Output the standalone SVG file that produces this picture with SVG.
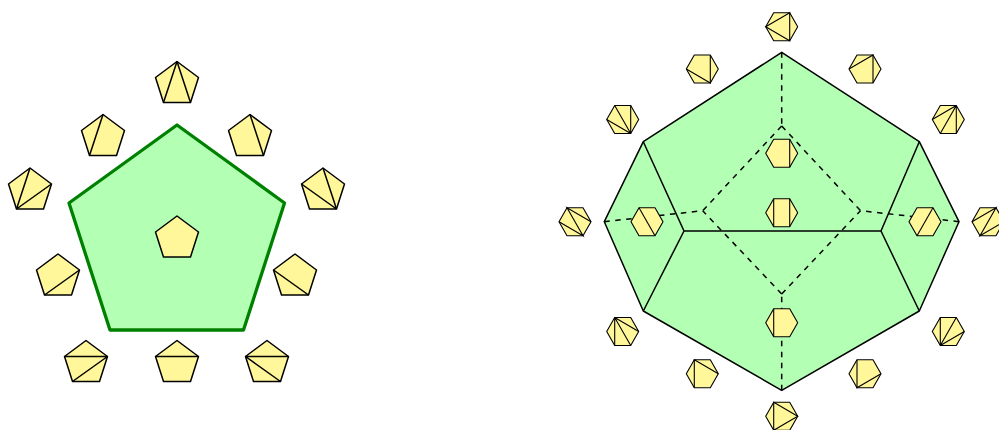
<svg xmlns="http://www.w3.org/2000/svg" width="999" height="430" viewBox="0 0 999 430">
<style>
.big{fill:#b3ffb3;stroke:#008000;stroke-width:3.3;stroke-linejoin:round}
.poly{fill:#b3ffb3;stroke:#000;stroke-width:1.5;stroke-linejoin:round}
.s{fill:#fff799;stroke:#000;stroke-width:1.5;stroke-linejoin:round}
.h{fill:#fff799;stroke:#000;stroke-width:1.1;stroke-linejoin:round}
.d{fill:none;stroke:#000;stroke-width:1.5}
.t{fill:none;stroke:#000;stroke-width:1.1}
.e{fill:none;stroke:#000;stroke-width:1.5}
.dash{fill:none;stroke:#000;stroke-width:1.5;stroke-dasharray:5.5 5.5}
</style>
<defs>
<polygon id="pen" class="s" points="0,0 21.5,16 13.5,41 -13.5,41 -21.5,16"/>
<polygon id="hex" class="h" points="-8,-14 8,-14 16,0 8,14 -8,14 -16,0"/>
</defs>
<g id="pentagon-main"><polygon class="big" points="177,125 284.5,203 243.5,330 110,330 69,203"/></g>
<g id="p-center" transform="translate(177,216)"><use href="#pen"/></g>
<g id="p-top" transform="translate(177,61.5)"><use href="#pen"/><path class="d" d="M0,0L-13.5,41M0,0L13.5,41"/></g>
<g id="p-ul" transform="translate(103,114.5)"><use href="#pen"/><path class="d" d="M0,0L-13.5,41"/></g>
<g id="p-ur" transform="translate(250,114.5)"><use href="#pen"/><path class="d" d="M0,0L13.5,41"/></g>
<g id="p-l1" transform="translate(30,168)"><use href="#pen"/><path class="d" d="M-13.5,41L0,0M-13.5,41L21.5,16"/></g>
<g id="p-r1" transform="translate(323,168)"><use href="#pen"/><path class="d" d="M13.5,41L0,0M13.5,41L-21.5,16"/></g>
<g id="p-l2" transform="translate(58,254)"><use href="#pen"/><path class="d" d="M-13.5,41L21.5,16"/></g>
<g id="p-r2" transform="translate(295,254)"><use href="#pen"/><path class="d" d="M13.5,41L-21.5,16"/></g>
<g id="p-b1" transform="translate(86,340.5)"><use href="#pen"/><path class="d" d="M-21.5,16H21.5M-13.5,41L21.5,16"/></g>
<g id="p-b2" transform="translate(177,340.5)"><use href="#pen"/><path class="d" d="M-21.5,16H21.5"/></g>
<g id="p-b3" transform="translate(267,340.5)"><use href="#pen"/><path class="d" d="M-21.5,16H21.5M-21.5,16L13.5,41"/></g>

<g id="polyhedron">
<polygon class="poly" points="781.7,52.3 919.3,141.7 959,221.7 919.3,311 781.7,390.3 643.3,311 604.3,221.7 643.3,141.7"/>
</g>
<g id="connectors">
<path class="e" d="M684,231H881M643.3,141.7L684,231L643.3,311M919.3,141.7L881,231L919.3,311"/>
<path class="dash" d="M781.7,52.3V126"/>
<path class="dash" d="M781.7,126L702.7,210.7"/>
<path class="dash" d="M781.7,126L860.5,210.7"/>
<path class="dash" d="M781.7,294L702.7,210.7"/>
<path class="dash" d="M781.7,294L860.5,210.7"/>
<path class="dash" d="M604.3,221.7L702.7,210.7"/>
<path class="dash" d="M959,221.7L860.5,210.7"/>
<path class="dash" d="M781.7,390.3V294"/>
</g>
<g id="h-in1" transform="translate(781.7,153.3)"><use href="#hex"/><path class="t" d="M8,-14V14"/></g>
<g id="h-in2" transform="translate(781.7,212.7)"><use href="#hex"/><path class="t" d="M-8,-14V14M8,-14V14"/></g>
<g id="h-in3" transform="translate(781.7,322.7)"><use href="#hex"/><path class="t" d="M-8,-14V14"/></g>
<g id="h-in4" transform="translate(647,221.7)"><use href="#hex"/><path class="t" d="M-8,-14L8,14"/></g>
<g id="h-in5" transform="translate(925,221.7)"><use href="#hex"/><path class="t" d="M8,-14L-8,14"/></g>
<g id="h-top" transform="translate(781.7,26.7)"><use href="#hex"/><path class="t" d="M8,-14L-16,0L8,14Z"/></g>
<g id="h-2" transform="translate(702.3,69)"><use href="#hex"/><path class="t" d="M-16,0L8,14L8,-14"/></g>
<g id="h-3" transform="translate(865,69)"><use href="#hex"/><path class="t" d="M-16,0L8,-14L8,14"/></g>
<g id="h-4" transform="translate(622.7,119.5)"><use href="#hex"/><path class="t" d="M8,14L-8,-14M8,14L-16,0M8,14L8,-14"/></g>
<g id="h-5" transform="translate(948.3,119.5)"><use href="#hex"/><path class="t" d="M8,-14L-16,0M8,-14L-8,14M8,-14L8,14"/></g>
<g id="h-6" transform="translate(575,221.7)"><use href="#hex"/><path class="t" d="M16,0L-8,-14L8,14L-16,0"/></g>
<g id="h-7" transform="translate(988,221.7)"><use href="#hex"/><path class="t" d="M-16,0L8,-14L-8,14L16,0"/></g>
<g id="h-8" transform="translate(622.7,331.5)"><use href="#hex"/><path class="t" d="M-8,-14L-8,14M-8,-14L8,14M-8,-14L16,0"/></g>
<g id="h-9" transform="translate(948.3,331.5)"><use href="#hex"/><path class="t" d="M-8,14L-8,-14M-8,14L8,-14M-8,14L16,0"/></g>
<g id="h-10" transform="translate(702.3,373.7)"><use href="#hex"/><path class="t" d="M-8,14L-8,-14L16,0"/></g>
<g id="h-11" transform="translate(865,373.7)"><use href="#hex"/><path class="t" d="M-8,-14L-8,14L16,0"/></g>
<g id="h-bot" transform="translate(781.7,416.3)"><use href="#hex"/><path class="t" d="M-8,-14L-8,14L16,0Z"/></g>
</svg>
